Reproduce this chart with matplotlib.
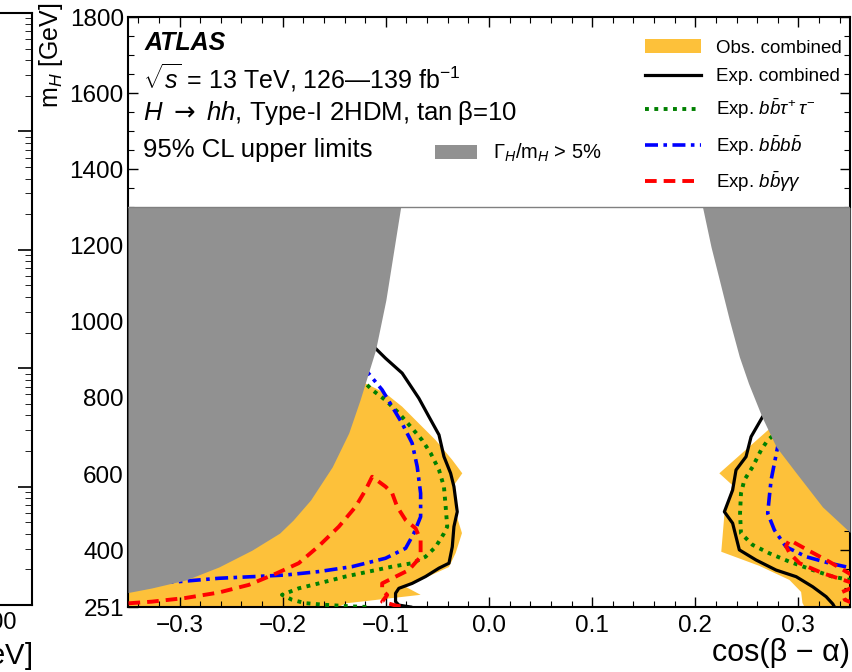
import numpy as np
import matplotlib
matplotlib.use('Agg')
import matplotlib.pyplot as plt
from matplotlib.patches import Patch
from matplotlib.ticker import MultipleLocator, FixedLocator, NullFormatter

plt.rcParams['font.family'] = ['Liberation Sans', 'DejaVu Sans']
plt.rcParams['mathtext.fontset'] = 'custom'
plt.rcParams['mathtext.rm'] = 'Liberation Sans'
plt.rcParams['mathtext.it'] = 'Liberation Sans:italic'
plt.rcParams['mathtext.bf'] = 'Liberation Sans:bold'
plt.rcParams['mathtext.sf'] = 'DejaVu Sans'

# ---------------- data (cos(beta-alpha), m_H [GeV]) ----------------
gray_left_x = [-0.350, -0.327, -0.294, -0.262, -0.230, -0.203, -0.190, -0.173, -0.152, -0.136, -0.125, -0.110, -0.100, -0.0857]
gray_left_y = [289, 301, 322, 356, 400, 445, 479, 532, 619, 708, 795, 926, 1057, 1300]

gray_right_x = [0.2071, 0.2152, 0.2233, 0.2330, 0.2427, 0.2516, 0.2645, 0.2783, 0.2978, 0.3233, 0.3500]
gray_right_y = [1300, 1197, 1110, 1005, 908, 838, 751, 672, 603, 514, 447]

obs_left_x = [-0.350, -0.350, -0.200, -0.125, -0.1197, -0.1003, -0.0842, -0.0680, -0.0517, -0.0356,
              -0.0259, -0.0340, -0.0323, -0.0262, -0.0323, -0.0388, -0.0809, -0.0663, -0.1388, -0.1460]
obs_left_y = [251, 300, 600, 845, 838, 812, 777, 733, 689, 637,
              602, 571, 498, 445, 393, 356, 304, 283, 260.6, 251]

obs_right_x = [0.2816, 0.2233, 0.2359, 0.2282, 0.2252, 0.2621, 0.2913, 0.3026, 0.3039, 0.3060, 0.3500, 0.3500, 0.3200, 0.2900]
obs_right_y = [742, 602, 571, 493, 396, 359, 322, 290.5, 261.5, 251, 251, 470, 530, 640]

exp_left_x = [-0.115, -0.110, -0.1003, -0.0842, -0.0680, -0.0583, -0.0485, -0.0437, -0.0372, -0.0340, -0.0308,
              -0.0340, -0.0356, -0.0388, -0.0485, -0.0615, -0.0745, -0.0874, -0.0906, -0.0906, -0.0874, -0.0760]
exp_left_y = [945, 930, 904, 865, 799, 751, 703, 646, 602, 567, 501,
              462, 409, 366, 353, 331, 313, 300, 287, 265, 256, 251]

exp_right_x = [0.2700, 0.2653, 0.2541, 0.2492, 0.2395, 0.2362, 0.2282, 0.2362, 0.2427, 0.2589, 0.2783,
               0.2978, 0.3139, 0.3269, 0.3333, 0.3350]
exp_right_y = [770, 750.6, 698, 645.6, 610.7, 558, 501, 471, 401, 374.4, 348,
               330.6, 304, 278, 259, 251]

tt_left_x = [-0.125, -0.1197, -0.1133, -0.1003, -0.0874, -0.0745, -0.0648, -0.0566, -0.0485, -0.0437, -0.0420,
             -0.0405, -0.0437, -0.0517, -0.0615, -0.0745, -0.0939, -0.1165, -0.1391, -0.1650, -0.1845,
             -0.2007, -0.1910, -0.1780, -0.1585, -0.1330, -0.1165]
tt_left_y = [850, 838, 821, 794, 760, 720, 689, 655, 611, 567, 514,
             462, 444, 409, 383, 366, 357, 344, 331, 313, 300,
             283, 270, 261, 256.6, 252.6, 251]

tt_right_x = [0.2750, 0.2702, 0.2638, 0.2556, 0.2476, 0.2443, 0.2434, 0.2443, 0.2556, 0.2718, 0.2913,
              0.3139, 0.3333, 0.3520]
tt_right_y = [700, 689, 663, 619, 584.6, 549.5, 497, 444.5, 414, 392, 370,
              348, 330.6, 321]

bb_left_x = [-0.124, -0.1182, -0.1036, -0.0939, -0.0842, -0.0745, -0.0696, -0.0663, -0.0663, -0.0728,
             -0.0809, -0.1003, -0.1327, -0.1650, -0.1973, -0.2297, -0.2620, -0.3010, -0.3400]
bb_left_y = [885, 869, 821, 777, 733, 681, 619.5, 549.5, 488, 444.5,
             405, 379, 357, 344, 335, 330.6, 326.4, 317.5, 314]

bb_right_x = [0.2840, 0.2799, 0.2767, 0.2735, 0.2718, 0.2702, 0.2767, 0.2880, 0.3075, 0.3301, 0.3520]
bb_right_y = [690, 672, 628, 584.6, 540.6, 497, 453, 409, 383, 366, 353]

yy_left_x = [-0.3495, -0.3270, -0.2945, -0.2620, -0.2330, -0.2058, -0.1845, -0.1650, -0.1456, -0.1294,
             -0.1197, -0.1133, -0.1003, -0.0939, -0.0890, -0.0809, -0.0712, -0.0663, -0.0663, -0.0777,
             -0.0906, -0.1036, -0.1036, -0.0987, -0.1036, -0.0906, -0.0825]
yy_left_y = [260.7, 265, 274.6, 289, 309, 339.6, 366, 411, 462, 514,
             558, 593, 567, 550, 514, 479.5, 457.5, 427, 383, 348,
             330.6, 313, 295.6, 282.5, 265, 255, 251]

yy_right_x = [0.3550, 0.3301, 0.3107, 0.2913, 0.2880, 0.2913, 0.3010, 0.3236, 0.3550,
              np.nan, 0.3550, 0.3420, 0.3450, 0.3520]
yy_right_y = [330, 369.6, 398, 427, 411, 393, 366, 339.6, 312,
              np.nan, 305, 290, 270, 262]

x_ticks = [-0.3, -0.2, -0.1, 0.0, 0.1, 0.2, 0.3]
x_tick_labels = ['\u22120.3', '\u22120.2', '\u22120.1', '0.0', '0.1', '0.2', '0.3']
y_ticks = [251, 400, 600, 800, 1000, 1200, 1400, 1600, 1800]

legend_labels = ['Obs. combined', 'Exp. combined', r'Exp. $b\bar{b}\tau^{+}\,\tau^{-}$',
                 r'Exp. $b\bar{b}b\bar{b}$', r'Exp. $b\bar{b}\gamma\gamma$']
width_label = r'$\Gamma_{H}/\mathrm{m}_{H}$ > 5%'

# ---------------- style ----------------
c_obs = '#FDC13A'
c_gray = '#919191'
W, H = 853, 672

fig = plt.figure(figsize=(W / 100, H / 100), dpi=100)

# partial neighbouring panel on the left
ax2 = fig.add_axes([-0.5, 1 - 605 / H, 0.5 + 32 / W, 592 / H])
ax2.set_xlim(200, 1080)
ax2.set_yscale('log')
ax2.set_ylim(1e-3, 1e2)
ax2.set_xticks([400, 600, 800, 1000])
ax2.set_xticklabels(['400', '600', '800', '1000'])
ax2.tick_params(axis='both', which='both', direction='in', right=True, top=True,
                labelsize=17, pad=5)
ax2.tick_params(axis='y', which='major', length=10, width=1.2)
ax2.tick_params(axis='y', which='minor', length=5)
ax2.yaxis.set_major_formatter(NullFormatter())
ax2.yaxis.set_minor_formatter(NullFormatter())
ax2.set_xlabel(r'$\mathrm{m}_{A}$ [GeV]', loc='right', fontsize=21)
for s in ax2.spines.values():
    s.set_linewidth(1.5)

# main panel
ax = fig.add_axes([128 / W, 1 - 607 / H, 722 / W, 590 / H])
ax.set_xlim(-0.35, 0.35)
ax.set_ylim(251, 1800)

obs_patch = ax.fill(obs_left_x, obs_left_y, color=c_obs, lw=0, zorder=1)[0]
ax.fill(obs_right_x, obs_right_y, color=c_obs, lw=0, zorder=1)

lw_line = 2.3
l_exp, = ax.plot(exp_left_x, exp_left_y, color='black', lw=lw_line, zorder=3)
ax.plot(exp_right_x, exp_right_y, color='black', lw=lw_line, zorder=3)

dot = (0, (1, 1.4))
l_tt, = ax.plot(tt_left_x, tt_left_y, color='#008000', lw=2.8, ls=dot, dash_capstyle='butt', zorder=3)
ax.plot(tt_right_x, tt_right_y, color='#008000', lw=2.8, ls=dot, dash_capstyle='butt', zorder=3)

dashdot = (0, (3.6, 1.5, 1.0, 1.5))
l_bb, = ax.plot(bb_left_x, bb_left_y, color='#0000FF', lw=2.6, ls=dashdot, zorder=3)
ax.plot(bb_right_x, bb_right_y, color='#0000FF', lw=2.6, ls=dashdot, zorder=3)

dash = (0, (3.0, 1.8))
l_yy, = ax.plot(yy_left_x, yy_left_y, color='#FF0000', lw=2.8, ls=dash, zorder=3)
ax.plot(yy_right_x, yy_right_y, color='#FF0000', lw=2.8, ls=dash, zorder=3)

# width > 5% region (drawn on top)
ax.fill_betweenx(gray_left_y, -0.35, gray_left_x, color=c_gray, lw=0, zorder=4)
ax.fill_betweenx(gray_right_y, gray_right_x, 0.35, color=c_gray, lw=0, zorder=4)
ax.axhline(1300, color='#808080', lw=1.0, zorder=5)

# axes styling
ax.xaxis.set_major_locator(FixedLocator(x_ticks))
ax.xaxis.set_minor_locator(MultipleLocator(0.02))
ax.yaxis.set_major_locator(FixedLocator(y_ticks))
ax.yaxis.set_minor_locator(MultipleLocator(50))
ax.set_xticklabels(x_tick_labels)
ax.set_yticklabels([str(v) for v in y_ticks])
ax.tick_params(axis='both', which='both', direction='in', top=True, right=True, labelsize=17.5)
ax.tick_params(axis='both', which='major', length=7, width=1.0)
ax.tick_params(axis='both', which='minor', length=4, width=0.8)
ax.tick_params(axis='x', pad=6)
ax.tick_params(axis='y', pad=3)
for s in ax.spines.values():
    s.set_linewidth(1.5)

fig.text(51 / W, 1 - 3 / H, r'$\mathrm{m}_{H}$ [GeV]', rotation=90, ha='center', va='top', fontsize=18)
fig.text(850 / W, 1 - 668 / H, 'cos(\u03b2 \u2212 \u03b1)', ha='right', va='bottom', fontsize=22)

# labels block
line2 = r'$\sqrt{s}$ = 13 TeV, 126' + '\u2014' + r'139 fb$^{-1}$'
line3 = r'$H\ \mathsf{\rightarrow}\ hh$, Type-I 2HDM, tan' + '\u2009\u03b2=10'
fig.text(145 / W, 1 - 43 / H, 'ATLAS', fontsize=18, fontweight='bold', fontstyle='italic', va='center')
fig.text(143 / W, 1 - 78 / H, line2, fontsize=18, va='center')
fig.text(143 / W, 1 - 113 / H, line3, fontsize=18.5, va='center')
fig.text(143 / W, 1 - 150 / H, '95% CL upper limits', fontsize=18.5, va='center')

leg = ax.legend([obs_patch, l_exp, l_tt, l_bb, l_yy], legend_labels,
                loc='upper right', bbox_to_anchor=(0.989, 0.962), frameon=False, fontsize=13.5,
                handlelength=3.0, handletextpad=0.8, labelspacing=0.62, borderpad=0, borderaxespad=0)
leg.set_zorder(10)
ax.add_artist(leg)
leg2 = ax.legend([Patch(facecolor=c_gray, edgecolor='none')], [width_label],
                 loc='center left', bbox_to_anchor=(0.425, 0.769), frameon=False, fontsize=14.5,
                 handlelength=2.1, handleheight=0.75, handletextpad=0.8, borderpad=0, borderaxespad=0)
leg2.set_zorder(10)

fig.savefig('out.png', dpi=100)
